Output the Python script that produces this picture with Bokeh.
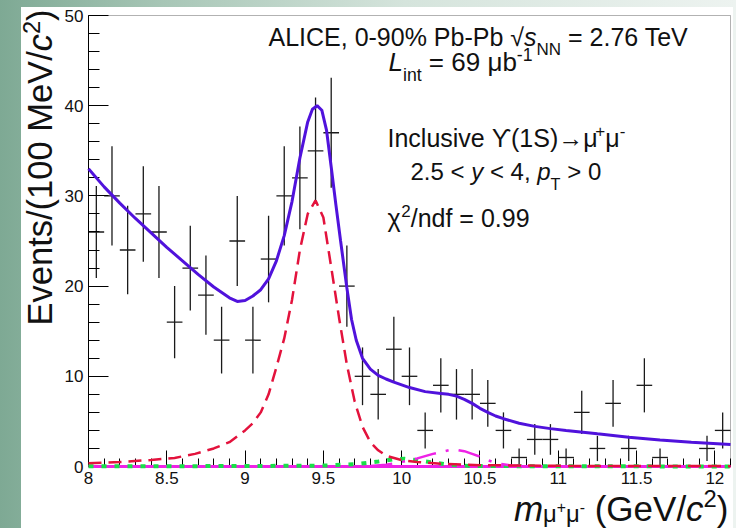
import math
from bokeh.plotting import figure
from bokeh.models import Label, FixedTicker, Range1d, BoxAnnotation
from bokeh.embed import file_html
from bokeh.resources import INLINE

# ---------------- data ----------------
bin_centers = [8.05, 8.15, 8.25, 8.35, 8.45, 8.55, 8.65, 8.75, 8.85, 8.95,
               9.05, 9.15, 9.25, 9.35, 9.45, 9.55, 9.65, 9.75, 9.85, 9.95,
               10.05, 10.15, 10.25, 10.35, 10.45, 10.55, 10.65, 10.75, 10.85, 10.95,
               11.05, 11.15, 11.25, 11.35, 11.45, 11.55, 11.65, 11.75, 11.85, 11.95,
               12.05]
counts = [26, 30, 24, 28, 26, 16, 22, 19, 14, 25,
          14, 23, 30, 32, 35, 37, 20, 10, 8, 13,
          10, 4, 9, 8, 8, 7, 4, 1, 3, 3,
          1, 6, 2, 7, 2, 9, 1, 0, 0, 2,
          4]
errors = [5.1, 5.5, 4.9, 5.3, 5.1, 4.0, 4.7, 4.4, 3.7, 5.0,
          3.7, 4.8, 5.5, 5.7, 5.9, 6.1, 4.5, 3.2, 2.8, 3.6,
          3.2, 2.0, 3.0, 2.8, 2.8, 2.6, 2.0, 1.0, 1.7, 1.7,
          1.0, 2.4, 1.4, 2.6, 1.4, 3.0, 1.0, 0.0, 0.0, 1.4,
          2.0]
bin_half_width = 0.05

# total fit (blue)
total_x = [8.00, 8.10, 8.20, 8.30, 8.40, 8.50, 8.60, 8.70, 8.80, 8.90, 8.95, 9.00,
           9.05, 9.10, 9.15, 9.20, 9.25, 9.30, 9.35, 9.40, 9.43, 9.46, 9.49, 9.52,
           9.55, 9.58, 9.61, 9.65, 9.68, 9.71, 9.75, 9.80, 9.85, 9.90, 9.95, 10.05,
           10.15, 10.25, 10.30, 10.35, 10.40, 10.45, 10.50, 10.55, 10.60, 10.65, 10.75,
           10.85, 10.95, 11.05, 11.25, 11.45, 11.65, 11.85, 12.10]
total_y = [33.0, 31.0, 29.2, 27.5, 25.9, 24.3, 22.8, 21.3, 19.9, 18.7, 18.3, 18.4,
           18.9, 19.6, 20.8, 22.8, 25.6, 29.4, 34.2, 38.2, 39.6, 40.0, 39.5, 37.3,
           33.2, 29.0, 25.0, 19.8, 16.3, 14.0, 12.0, 10.8, 10.1, 9.7, 9.35, 8.75,
           8.3, 8.1, 8.0, 7.8, 7.45, 7.0, 6.45, 6.0, 5.6, 5.3, 4.8,
           4.45, 4.2, 4.0, 3.62, 3.25, 2.95, 2.7, 2.45]

# Upsilon(1S) component (red dashed)
ups1_x = [8.00, 8.20, 8.40, 8.55, 8.68, 8.80, 8.90, 9.00, 9.05, 9.10, 9.15, 9.20,
          9.25, 9.30, 9.35, 9.40, 9.45, 9.50, 9.55, 9.60, 9.65, 9.70, 9.75, 9.80,
          9.85, 9.90, 10.00, 10.10, 10.25, 10.50, 11.00, 12.10]
ups1_y = [0.35, 0.5, 0.72, 0.95, 1.4, 2.0, 2.7, 4.0, 4.8, 6.0, 8.0, 11.0,
          14.2, 18.5, 24.0, 28.0, 29.5, 27.6, 22.1, 16.5, 11.3, 7.2, 4.4, 2.7,
          1.8, 1.2, 0.7, 0.5, 0.3, 0.15, 0.07, 0.04]

# higher states (magenta dash-dot)
ups3_x = [9.80, 9.90, 10.00, 10.10, 10.20, 10.30, 10.35, 10.40, 10.45, 10.50, 10.55, 10.60, 10.70, 10.80]
ups3_y = [0.05, 0.2, 0.5, 0.9, 1.4, 1.8, 1.85, 1.7, 1.4, 1.1, 0.7, 0.4, 0.1, 0.02]

# Upsilon(2S) component (green dotted)
ups2_x = [8.00, 9.00, 9.50, 9.70, 9.85, 9.95, 10.02, 10.10, 10.20, 10.30, 10.45, 12.10]
ups2_y = [0.02, 0.05, 0.1, 0.25, 0.55, 0.8, 0.85, 0.7, 0.45, 0.2, 0.05, 0.0]

# flat component (magenta solid)
flat_x = [8.0, 12.1]
flat_y = [0.0, 0.0]

x_lo, x_hi = 8.0, 12.1
y_lo, y_hi = 0.0, 50.0
x_major = [8, 8.5, 9, 9.5, 10, 10.5, 11, 11.5, 12]
x_labels = ["8", "8.5", "9", "9.5", "10", "10.5", "11", "11.5", "12"]
x_minor = [round(8 + 0.1 * i, 1) for i in range(42)]
y_major = [0, 10, 20, 30, 40, 50]
y_minor = list(range(0, 51, 2))

# ---------------- layout geometry (page pixels) ----------------
W, H = 736, 528
FL, FT, FR, FB = 88, 15, 730, 466      # where the data box sits on the page
sx = (FR - FL) / (x_hi - x_lo)
sy = (FB - FT) / (y_hi - y_lo)
FONT = "Liberation Sans"
INK = "#111111"

p = figure(width=W, height=H,
           x_range=Range1d(x_lo - FL / sx, x_hi + (W - FR) / sx),
           y_range=Range1d(y_lo - (H - FB) / sy, y_hi + FT / sy),
           output_backend="svg", toolbar_location=None,
           min_border=0, min_border_left=0, min_border_right=0,
           min_border_top=0, min_border_bottom=0,
           background_fill_color=None, border_fill_color=None,
           outline_line_color=None)
p.styles = {"background": "linear-gradient(#ffffff,#ffffff) 21px 7px / 712px 521px no-repeat, "
                          "linear-gradient(to right, #7ea994 0%, #a7c6b6 22%, #d5e4dc 55%, #edf3f0 100%)"}
p.xgrid.visible = False
p.ygrid.visible = False

for ax in (p.xaxis[0], p.yaxis[0]):
    ax.axis_line_color = "black"
    ax.major_tick_line_color = "black"
    ax.minor_tick_line_color = "black"
    ax.major_tick_out = 0
    ax.minor_tick_out = 0
    ax.major_label_text_font = FONT
    ax.major_label_text_font_size = "17px"
    ax.major_label_text_color = INK
    ax.major_label_standoff = 5

p.xaxis.fixed_location = y_lo
p.xaxis.bounds = (x_lo, x_hi)
p.xaxis.ticker = FixedTicker(ticks=x_major, minor_ticks=x_minor)
p.xaxis.major_label_overrides = {float(k): v for k, v in zip(x_major, x_labels)}
p.xaxis.major_tick_in = 16
p.xaxis.minor_tick_in = 8
p.yaxis.fixed_location = x_lo
p.yaxis.bounds = (y_lo, y_hi)
p.yaxis.ticker = FixedTicker(ticks=y_major, minor_ticks=y_minor)
p.yaxis.major_tick_in = 20
p.yaxis.minor_tick_in = 11

# frame of the data box
p.add_layout(BoxAnnotation(left=x_lo, right=x_hi, bottom=y_lo, top=y_hi,
                           fill_color=None, line_color="black", line_width=1))

# ---------------- data points with error bars ----------------
xs = [x for x, n in zip(bin_centers, counts) if n > 0]
ns = [n for n in counts if n > 0]
es = [e for e, n in zip(errors, counts) if n > 0]
p.segment(x0=xs, y0=[n - e for n, e in zip(ns, es)], x1=xs, y1=[n + e for n, e in zip(ns, es)],
          line_color="#1a1a1a", line_width=1.3)
p.segment(x0=[x - bin_half_width for x in xs], y0=ns, x1=[x + bin_half_width for x in xs], y1=ns,
          line_color="#1a1a1a", line_width=1.3)

# ---------------- fit components ----------------
p.line(flat_x, flat_y, line_color="#ee22e6", line_width=3, level="overlay")
p.line(ups2_x, ups2_y, line_color="#18e048", line_width=4, line_dash="5 8", level="overlay")
p.line(ups3_x, ups3_y, line_color="#ee22e6", line_width=2.5, line_dash="22 10 3 10", level="overlay")
p.line(ups1_x, ups1_y, line_color="#e3123c", line_width=2.5, line_dash="13 7", level="overlay")
p.line(total_x, total_y, line_color="#5012dc", line_width=3, level="overlay")

# ---------------- rich text helper ----------------
CW = {' ': 0.278, '%': 0.889, '(': 0.333, ')': 0.333, ',': 0.278, '-': 0.333, '.': 0.278,
      '/': 0.278, '<': 0.584, '=': 0.584, '>': 0.584, '+': 0.584,
      'A': 0.667, 'C': 0.722, 'E': 0.667, 'G': 0.778, 'I': 0.278, 'L': 0.556, 'M': 0.833,
      'N': 0.722, 'P': 0.667, 'S': 0.667, 'T': 0.611, 'V': 0.667,
      'b': 0.556, 'c': 0.5, 'd': 0.556, 'e': 0.556, 'f': 0.278, 'i': 0.222, 'l': 0.222,
      'm': 0.833, 'n': 0.556, 'p': 0.556, 's': 0.5, 't': 0.278, 'u': 0.556, 'v': 0.5,
      'y': 0.5, 'μ': 0.576, 'χ': 0.55, 'ϒ': 0.68, '→': 1.0, '√': 0.55}
SHIFT = 0.30   # the renderer sets text this fraction of its size below the anchor


def tw(s, size):
    return sum(CW.get(ch, 0.556) for ch in s) * size


def rich(x0, y0, segs, base, angle=0.0, align="left", sub=0.42, sup=0.36):
    items = []
    for t, k in segs:
        if k == "n":
            items.append((t, base, 0.0, "normal"))
        elif k == "i":
            items.append((t, base, 0.0, "italic"))
        elif k == "sub":
            items.append((t, base * 0.68, -sub * base, "normal"))
        elif k == "sup":
            items.append((t, base * 0.68, sup * base, "normal"))
        elif k == "subsup":
            items.append((t, base * 0.45, (-sub + 0.25) * base, "normal"))
    total = sum(tw(t, s) for t, s, _, _ in items)
    adv = -total if align == "right" else 0.0
    for t, size, dy, style in items:
        core = t.strip(" ")
        lead = len(t) - len(t.lstrip(" "))
        trail = len(t) - len(t.rstrip(" "))
        adv += lead * CW[" "] * size
        corr = SHIFT * size
        if angle == 0.0:
            xo, yo = x0 + adv - FL, (FB - y0) + dy + corr
        else:
            xo, yo = x0 - dy - corr - FL, (FB - y0) + adv
        p.add_layout(Label(x=x_lo, y=y_lo, x_offset=xo, y_offset=yo, text=core, angle=angle,
                           text_font=FONT, text_font_size=f"{size:.1f}px",
                           text_font_style=style, text_color=INK,
                           text_align="left", text_baseline="alphabetic"))
        adv += tw(core, size) + trail * CW[" "] * size


rich(268, 44, [("ALICE, 0-90% Pb-Pb ", "n"), ("√", "n"), ("s", "i"), ("NN", "sub"),
               (" = 2.76 TeV", "n")], 25)
rich(388, 69, [("L", "i"), ("int", "sub"), (" = 69 μb", "n"), ("-1", "sup")], 26)
rich(387, 145, [("Inclusive ϒ(1S)→μ", "n"), ("+", "sup"), ("μ", "n"), ("-", "sup")], 25)
rich(410, 178, [("2.5 < ", "n"), ("y", "i"), (" < 4, ", "n"), ("p", "i"), ("T", "sub"),
                (" > 0", "n")], 24)
rich(387, 225, [("χ", "n"), ("2", "sup"), ("/ndf = 0.99", "n")], 25)

# axis titles
rich(50, 325, [("Events/(100 MeV/", "n"), ("c", "i"), ("2", "sup"), (")", "n")], 34.5,
     angle=math.pi / 2)
rich(728, 518, [("m", "i"), ("μ", "sub"), ("+", "subsup"), ("μ", "sub"), ("-", "subsup"),
                (" (GeV/", "n"), ("c", "i"), ("2", "sup"), (")", "n")], 35, align="right",
     sub=0.05)

open("out.html", "w").write(file_html(p, INLINE))
